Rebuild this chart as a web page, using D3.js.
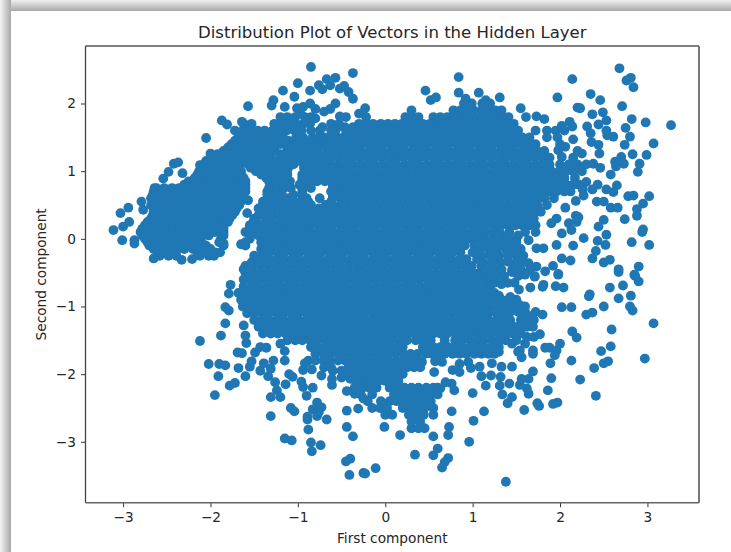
<!DOCTYPE html>
<html>
<head>
<meta charset="utf-8">
<script src="https://cdn.jsdelivr.net/npm/d3@7"></script>
<style>
  html, body { margin: 0; padding: 0; background: #fff; }
  svg { display: block; }
  text { font-family: "DejaVu Sans", sans-serif; fill: #262626; }
</style>
</head>
<body>
<svg id="chart" width="731" height="552"></svg>
<script>
var titleText = 'Distribution Plot of Vectors in the Hidden Layer';
var xLabel = 'First component';
var yLabel = 'Second component';
var xTicks = [-3, -2, -1, 0, 1, 2, 3];
var yTicks = [-3, -2, -1, 0, 1, 2];
var xDomain = [-3.43, 3.59];
var yDomain = [-3.9, 2.85];

var upperLeft = [[-0.85,2.54],[-0.37,2.45],[-1,2.3],[-1.17,2.19],[-1.04,2.1],[-1.28,2.05],[-1.3,1.97],[-1.15,1.95],[-1.57,1.96],[-1.87,1.75],[-1.81,1.69],[-2.05,1.49],[-2.37,1.13],[-2.42,1.11],[-2.48,0.99],[-2.54,0.89],[-2.32,0.97],[-2.64,0.75],[-2.79,0.55],[-2.77,0.43],[-2.94,0.46],[-3.03,0.38],[-2.93,0.25],[-3,0.18],[-3.11,0.13],[-3.01,-0.02],[-2.87,-0.02],[-2.87,-0.07],[-2.65,-0.29],[-2.39,-0.25],[-2.33,-0.31],[-2.21,-0.3],[-1.89,-0.2],[-1.58,0.38],[-1.51,0.25],[-1.57,0.57],[-1.65,-0.08],[-1.85,-0.07],[-2,1.26],[-2.12,1.09],[-0.57,2.38],[-0.67,2.36],[-0.86,2.19],[-0.76,2.27],[-0.52,2.22],[-0.42,2.17],[-0.37,2.07],[-0.57,2],[-0.86,2],[-1.01,1.93],[-0.94,1.95],[-1.64,1.73],[-0.52,1.81],[-0.72,2.21],[-0.63,2.27],[-0.47,2.26],[-0.97,1.85],[-0.9,1.72],[-0.8,1.78],[-0.72,1.65],[-0.85,1.6],[-0.7,1.88],[-0.8,1.92],[-0.63,1.92],[-0.53,1.7],[-0.75,1.5],[-0.62,1.52],[-0.57,1.6],[-0.3,1.85],[-0.23,1.93]];

var upperRight = [[0.84,2.39],[0.46,2.19],[0.52,2.05],[0.58,2.09],[0.84,2.16],[1.07,2.16],[1.31,2.09],[0.92,2.07],[1.15,2.05],[1.55,1.93],[1.61,1.8],[1.73,1.81],[1.82,1.77],[1.97,2.09],[2.14,2.36],[2.35,2.14],[2.46,2.05],[2.68,2.52],[2.81,2.38],[2.76,2.34],[2.84,2.24],[2.71,1.96],[2.2,1.94],[2.23,1.93],[2.37,1.84],[2.49,1.87],[2.53,1.75],[2.44,1.69],[2.82,1.77],[2.98,1.72],[3.27,1.68],[2.75,1.64],[2.53,1.6],[2.54,1.53],[2.61,1.51],[2.8,1.51],[2.74,1.39],[3.07,1.41],[2.83,1.25],[2.99,1.24],[2.7,1.21],[2.73,1.11],[2.63,1.14],[2.64,1.07],[2.91,1.11],[2.89,0.99],[2.58,0.95],[2.46,1.05],[2.38,1.11],[2.31,1.66],[2.35,1.56],[2.36,1.43],[2.44,1.39],[2.45,1.26],[2.14,1.66],[2.11,1.73],[2.02,1.67],[2.15,1.47],[1.98,1.31],[2.06,1.36],[2.02,1.21],[2.25,1.26],[2.3,0.84],[2.43,0.8],[2.37,0.73],[2.65,0.79],[2.53,0.73],[2.61,0.69],[2.78,0.63],[2.84,0.64],[3.02,0.63],[2.95,0.52],[2.88,0.44],[2.88,0.34],[2.42,0.55],[2.5,0.55],[2.58,0.46],[2.66,0.46],[2.74,0.29],[2.06,0.46],[2.18,0.56],[2.27,0.64],[2.26,0.73],[2.18,0.34],[2.21,0.32],[2.5,0.28],[2.44,0.18],[2.53,0.06],[2.43,-0.03],[2.52,-0.09],[2.95,0.14],[2.94,0.1],[2.82,-0.05],[3.02,-0.09],[2.41,-0.18],[2.37,-0.29],[2.5,-0.35],[2.57,-0.31],[2.67,-0.45],[2.9,-0.41],[2.85,-0.53],[2.02,-0.29],[2.12,-0.32],[2.27,0.01],[2.15,-0.1],[2.19,0.25],[2.1,0.23],[1.96,0.3],[1.9,0.23],[2.13,0.13],[2.02,0.08],[1.92,-0.4],[1.98,-0.52],[1.83,-0.48],[1.73,-0.41],[1.64,-0.36],[1.6,-0.51],[1.71,-0.56],[1.45,-0.46],[1.41,-0.34],[1.81,-0.14],[1.73,-0.14],[1.96,-0.09],[1.64,-0.02]];

var lowerLeft = [[-2.12,-1.51],[-1.77,-0.68],[-1.79,-0.81],[-1.83,-1.01],[-1.79,-1.06],[-1.83,-1.25],[-1.88,-1.43],[-2.02,-1.85],[-1.9,-1.85],[-1.83,-1.87],[-1.91,-2.03],[-1.95,-2.31],[-1.78,-2.17],[-1.72,-2.13],[-1.68,-1.91],[-1.6,-2.03],[-1.55,-1.89],[-1.69,-1.68],[-1.64,-1.69],[-1.59,-1.54],[-1.6,-1.43],[-1.62,-1.28],[-1.43,-1.95],[-1.34,-2.03],[-1.31,-1.92],[-1.39,-1.84],[-1.53,-1.81],[-1.49,-1.68],[-1.43,-1.6],[-1.36,-1.61],[-1.28,-1.8],[-1.15,-1.8],[-1.15,-1.66],[-1.2,-1.55],[-1.26,-2.12],[-1.14,-2.15],[-1.24,-2.24],[-1.31,-2.34],[-1.2,-2.34],[-1.31,-2.62],[-1.1,-2],[-1.06,-2.04],[-0.96,-2.11],[-0.94,-2.19],[-0.83,-2.2],[-0.9,-2.32],[-0.78,-2.42],[-0.73,-2.49],[-0.83,-2.52],[-0.76,-2.56],[-0.78,-2.62],[-0.89,-2.63],[-0.89,-2.67],[-1.08,-2.5],[-1.04,-2.55],[-0.67,-2.67],[-0.88,-2.82],[-1.15,-2.95],[-1.07,-2.98],[-0.85,-3.01],[-0.74,-3.05],[-0.84,-3.14],[-0.44,-2.54],[-0.31,-2.51],[-0.44,-2.78],[-0.37,-2.92],[-0.4,-3.25],[-0.45,-3.29],[-0.41,-3.49],[-0.25,-3.46],[-0.44,-2.25],[-0.35,-2.29],[-0.25,-2.36],[-0.61,-2.16],[-0.73,-2.02],[-0.84,-1.93],[-0.94,-1.94],[-0.92,-1.84],[-0.61,-2.07],[-0.48,-1.99],[-0.4,-2.07],[-0.6,-1.95],[-0.5,-1.95],[-0.42,-1.93],[-0.5,-2.05]];

var lowerRight = [[3.07,-1.25],[2.97,-1.77],[2.59,-1.34],[2.58,-1.59],[2.47,-1.66],[2.55,-1.81],[2.5,-1.84],[2.39,-1.91],[2.23,-2.08],[2.41,-2.32],[2.13,-1.8],[2.14,-1.37],[2.19,-1.46],[2,-1.55],[1.96,-1.65],[1.94,-1.72],[1.89,-1.84],[1.9,-2.06],[1.86,-2.24],[1.97,-2.42],[1.92,-2.44],[1.74,-2.43],[1.76,-2.47],[1.59,-2.53],[1.45,-2.34],[1.4,-2.43],[1.34,-2.3],[1.42,-2.14],[1.13,-2.55],[1.01,-2.69],[0.96,-3],[0.76,-2.55],[1,-2.28],[0.73,-2.78],[0.72,-2.9],[0.55,-2.92],[0.17,-2.9],[0.6,-3.1],[0.55,-3.2],[0.34,-3.19],[0.72,-3.24],[0.68,-3.3],[0.65,-3.38],[1.38,-3.59],[-0.11,-3.39],[-0.23,-3.47],[-0.01,-2.78],[1.8,-1.12],[1.69,-1.3],[1.77,-1.41],[1.68,-1.14],[2.02,-1.01],[2.13,-1.01],[2.3,-1.12],[2.37,-1.09],[2.5,-1],[2.33,-0.85],[2.34,-0.82],[2.67,-0.88],[2.81,-0.84],[2.8,-1],[2.83,-1.06],[2.57,-0.72],[2.72,-0.69],[2.9,-0.63],[2.86,-0.55],[2.67,-0.49],[1.33,-0.67],[1.53,-0.75],[1.66,-0.72],[1.8,-0.71],[1.81,-0.68],[1.95,-0.7],[2.04,-0.72],[1.3,-0.84],[1.43,-0.86],[1.54,-0.98],[1.35,-1.11],[1.6,-0.53],[1.71,-0.55],[1.98,-0.53],[1.45,-0.49],[1.69,-1.65],[1.69,-1.7],[1.83,-1.61],[1.88,-1.61],[1.54,-1.65],[1.56,-1.75],[1.69,-1.96],[1.54,-2.16],[1.62,-2.21],[1.64,-2.29],[1.56,-2.07],[1.45,-1.89],[1.33,-1.89],[1.22,-1.84],[1.08,-1.89],[0.95,-1.82],[0.85,-1.85],[0.77,-1.94],[0.85,-1.97],[0.98,-1.91],[1.1,-2.03],[1.21,-2.02],[1.15,-2.17],[1.31,-2.17],[1.32,-2.04],[1.64,-2.07],[0.76,-2.14],[0.79,-2.24],[0.69,-2.12],[0.63,-2.21],[0.65,-1.82],[0.57,-1.81],[0.56,-1.97],[0.42,-1.82],[1.45,-1.55],[1.52,-1.67],[1.3,-1.67],[1.18,-1.67],[1.07,-1.67]];

// the dense middle: the marks overlap into a solid area there, so single points
// can't be read. each row is [second, first, first, ...], estimated to cover that area
var denseUpper = [
[2.0,0.9,0.99,1.11,1.2],
[1.9,0.3,0.78,0.86,0.93,1.01,1.1,1.18,1.26,1.33],
[1.8,-1.2,-1.12,-1.03,-0.92,-0.85,-0.45,-0.22,0.23,0.31,0.38,0.55,0.63,0.71,0.79,0.87,0.94,1.02,1.1,1.18,1.26,1.34,1.41],
[1.7,-1.62,-1.53,-1.27,-1.19,-1.11,-1.03,-0.94,-0.86,-0.62,-0.3,-0.22,-0.14,-0.05,0.03,0.11,0.19,0.27,0.35,0.43,0.51,0.59,0.67,0.75,0.83,0.91,0.99,1.07,1.15,1.23,1.31,1.39,1.47],
[1.6,-1.72,-1.63,-1.55,-1.46,-1.38,-1.29,-1.21,-1.13,-1.04,-0.96,-0.75,-0.62,-0.45,-0.37,-0.29,-0.2,-0.12,-0.04,0.04,0.13,0.21,0.29,0.37,0.45,0.54,0.62,0.7,0.78,0.86,0.95,1.03,1.11,1.19,1.27,1.36,1.44,1.52,1.72,1.85,1.95,2.05],
[1.5,-1.68,-1.6,-1.51,-1.43,-1.34,-1.26,-1.17,-1.02,-0.94,-0.83,-0.7,-0.55,-0.48,-0.4,-0.32,-0.24,-0.15,-0.07,0.01,0.09,0.17,0.26,0.34,0.42,0.5,0.58,0.67,0.75,0.83,0.91,0.99,1.08,1.16,1.24,1.32,1.41,1.49,1.57,1.65,1.85,1.97],
[1.4,-1.76,-1.68,-1.59,-1.5,-1.42,-1.33,-1.25,-1.2,-1.1,-1.01,-0.92,-0.8,-0.7,-0.61,-0.53,-0.44,-0.36,-0.28,-0.19,-0.11,-0.03,0.06,0.14,0.22,0.31,0.39,0.47,0.56,0.64,0.72,0.81,0.89,0.97,1.06,1.14,1.22,1.31,1.39,1.47,1.56,1.64,1.72,2.0],
[1.3,-1.85,-1.77,-1.68,-1.6,-1.51,-1.43,-1.34,-1.26,-1.12,-1.03,-0.95,-0.86,-0.78,-0.6,-0.52,-0.43,-0.35,-0.27,-0.18,-0.1,-0.02,0.07,0.15,0.23,0.32,0.4,0.48,0.57,0.65,0.73,0.82,0.9,0.98,1.07,1.15,1.23,1.32,1.4,1.48,1.57,1.65,1.74,1.82,2.2],
[1.2,-2.0,-1.92,-1.83,-1.74,-1.66,-1.57,-1.49,-1.4,-1.32,-1.2,-1.11,-1.03,-0.95,-0.85,-0.62,-0.54,-0.45,-0.37,-0.29,-0.2,-0.12,-0.04,0.05,0.13,0.21,0.3,0.38,0.46,0.55,0.63,0.71,0.8,0.88,0.96,1.05,1.13,1.21,1.3,1.38,1.46,1.55,1.63,1.71,1.8,1.88,2.15],
[1.1,-2.08,-2.0,-1.91,-1.83,-1.74,-1.66,-1.57,-1.49,-1.4,-1.28,-1.19,-1.1,-1.05,-0.9,-0.8,-0.7,-0.62,-0.53,-0.45,-0.37,-0.28,-0.2,-0.12,-0.03,0.05,0.13,0.22,0.3,0.38,0.47,0.55,0.63,0.72,0.8,0.88,0.97,1.05,1.13,1.22,1.3,1.38,1.47,1.55,1.63,1.72,1.8,1.88,2.0,2.1,2.2,2.3],
[1.0,-2.13,-2.05,-1.96,-1.88,-1.79,-1.71,-1.65,-1.48,-1.4,-1.31,-1.22,-1.13,-0.9,-0.75,-0.6,-0.51,-0.43,-0.35,-0.26,-0.18,-0.1,-0.01,0.07,0.15,0.24,0.32,0.4,0.49,0.57,0.65,0.74,0.82,0.9,0.99,1.07,1.15,1.24,1.32,1.4,1.49,1.57,1.65,1.74,1.82,1.9,1.99,2.07,2.15,2.25],
[0.9,-2.18,-2.1,-2.01,-1.93,-1.84,-1.76,-1.67,-1.62,-1.36,-1.27,-1.18,-0.95,-0.82,-0.62,-0.54,-0.45,-0.37,-0.29,-0.2,-0.12,-0.04,0.05,0.13,0.21,0.3,0.38,0.46,0.55,0.63,0.71,0.8,0.88,0.96,1.05,1.13,1.21,1.3,1.38,1.46,1.55,1.63,1.71,1.8,1.88,1.96,2.05,2.17],
[0.8,-2.3,-2.21,-2.13,-2.04,-1.96,-1.87,-1.79,-1.7,-1.6,-1.3,-1.2,-0.98,-0.88,-0.6,-0.51,-0.43,-0.35,-0.26,-0.18,-0.1,-0.01,0.07,0.15,0.24,0.32,0.4,0.49,0.57,0.65,0.74,0.82,0.9,0.99,1.07,1.15,1.24,1.32,1.4,1.49,1.57,1.65,1.74,1.82,1.9,1.99,2.07,2.15,2.22],
[0.7,-2.65,-2.57,-2.48,-2.4,-2.31,-2.23,-2.14,-2.06,-1.97,-1.89,-1.8,-1.72,-1.6,-1.35,-1.27,-1.2,-0.95,-0.62,-0.54,-0.45,-0.37,-0.29,-0.2,-0.12,-0.04,0.05,0.13,0.21,0.3,0.38,0.46,0.55,0.63,0.71,0.8,0.88,0.96,1.05,1.13,1.21,1.3,1.38,1.46,1.55,1.63,1.71,1.8,1.88,1.96,2.05,2.12],
[0.6,-2.68,-2.6,-2.51,-2.43,-2.34,-2.26,-2.17,-2.09,-2.0,-1.92,-1.83,-1.75,-1.63,-1.3,-1.2,-1.1,-0.9,-0.75,-0.6,-0.51,-0.43,-0.35,-0.26,-0.18,-0.1,-0.01,0.07,0.15,0.24,0.32,0.4,0.49,0.57,0.65,0.74,0.82,0.9,0.99,1.07,1.15,1.24,1.32,1.4,1.49,1.57,1.65,1.74,1.82,1.93],
[0.5,-2.68,-2.59,-2.51,-2.42,-2.34,-2.25,-2.17,-2.08,-2.0,-1.91,-1.83,-1.74,-1.67,-1.4,-1.3,-1.22,-1.15,-1.05,-0.95,-0.85,-0.68,-0.6,-0.51,-0.43,-0.34,-0.26,-0.18,-0.09,-0.01,0.07,0.16,0.24,0.32,0.41,0.49,0.57,0.66,0.74,0.82,0.91,0.99,1.07,1.16,1.24,1.32,1.41,1.49,1.57,1.66,1.74,1.85],
[0.4,-2.65,-2.57,-2.48,-2.4,-2.31,-2.23,-2.14,-2.06,-1.97,-1.89,-1.8,-1.72,-1.4,-1.3,-1.15,-1.06,-0.97,-0.88,-0.8,-0.7,-0.62,-0.53,-0.45,-0.37,-0.28,-0.2,-0.12,-0.03,0.05,0.13,0.22,0.3,0.38,0.47,0.55,0.63,0.72,0.8,0.88,0.97,1.05,1.13,1.22,1.3,1.38,1.47,1.55,1.63,1.72,1.78],
[0.3,-2.68,-2.6,-2.51,-2.43,-2.34,-2.26,-2.17,-2.09,-2.0,-1.92,-1.83,-1.78,-1.5,-1.15,-1.07,-0.98,-0.9,-0.8,-0.72,-0.63,-0.55,-0.47,-0.38,-0.3,-0.22,-0.13,-0.05,0.03,0.12,0.2,0.28,0.37,0.45,0.53,0.62,0.7,0.78,0.87,0.95,1.03,1.12,1.2,1.28,1.37,1.45,1.53,1.62,1.7],
[0.2,-2.75,-2.67,-2.58,-2.5,-2.41,-2.33,-2.24,-2.16,-2.07,-1.99,-1.9,-1.85,-1.55,-1.45,-1.1,-1.02,-0.93,-0.85,-0.76,-0.68,-0.6,-0.51,-0.43,-0.35,-0.26,-0.18,-0.1,-0.01,0.07,0.15,0.24,0.32,0.4,0.49,0.57,0.65,0.74,0.82,0.9,0.99,1.07,1.15,1.24,1.32,1.4,1.49,1.57,1.65,1.72],
[0.1,-2.8,-2.72,-2.63,-2.55,-2.46,-2.38,-2.29,-2.21,-2.12,-2.04,-1.95,-1.85,-1.6,-1.5,-1.4,-1.2,-1.11,-1.03,-0.94,-0.86,-0.77,-0.69,-0.61,-0.52,-0.44,-0.36,-0.27,-0.19,-0.11,-0.02,0.06,0.14,0.23,0.31,0.39,0.48,0.56,0.64,0.73,0.81,0.89,0.98,1.06,1.14,1.23,1.31,1.42,1.6,1.72],
[0.0,-2.75,-2.67,-2.58,-2.5,-2.41,-2.33,-2.24,-2.15,-1.88,-1.55,-1.4,-1.3,-1.21,-1.13,-1.04,-0.96,-0.87,-0.79,-0.71,-0.62,-0.54,-0.46,-0.37,-0.29,-0.21,-0.12,-0.04,0.04,0.13,0.21,0.29,0.38,0.46,0.54,0.63,0.71,0.79,0.88,0.96,1.04,1.13,1.22,1.4,1.5],
[-0.1,-2.7,-2.62,-2.53,-2.45,-2.36,-2.28,-2.19,-2.11,-2.05,-1.85,-1.6,-1.35,-1.27,-1.18,-1.1,-1.01,-0.93,-0.84,-0.76,-0.68,-0.59,-0.51,-0.43,-0.34,-0.26,-0.18,-0.09,-0.01,0.07,0.16,0.24,0.32,0.41,0.49,0.57,0.66,0.74,0.82,0.91,1.02,1.2,1.35],
[-0.2,-2.6,-2.5,-2.15,-2.05,-1.95,-1.4,-1.32,-1.23,-1.15,-1.06,-0.98,-0.89,-0.81,-0.73,-0.64,-0.56,-0.48,-0.39,-0.31,-0.23,-0.14,-0.06,0.02,0.11,0.19,0.27,0.36,0.44,0.52,0.61,0.69,0.77,0.86,1.0,1.2]
];

var denseLower = [
[-0.3,-1.5,-1.41,-1.33,-1.24,-1.16,-1.07,-0.99,-0.9,-0.82,-0.74,-0.65,-0.57,-0.49,-0.4,-0.32,-0.24,-0.15,-0.07,0.01,0.1,0.18,0.26,0.35,0.43,0.51,0.6,0.68,0.76,0.85,0.93,1.05,1.25],
[-0.4,-1.6,-1.52,-1.43,-1.35,-1.26,-1.18,-1.09,-1.01,-0.92,-0.84,-0.76,-0.67,-0.59,-0.51,-0.42,-0.34,-0.26,-0.17,-0.09,-0.01,0.08,0.16,0.24,0.33,0.41,0.49,0.58,0.66,0.74,0.83,0.91,0.99,1.1],
[-0.5,-1.6,-1.51,-1.43,-1.34,-1.26,-1.17,-1.09,-1.0,-0.92,-0.83,-0.75,-0.67,-0.58,-0.5,-0.42,-0.33,-0.25,-0.17,-0.08,0,0.08,0.17,0.25,0.33,0.42,0.5,0.58,0.67,0.75,0.83,0.92,1.0,1.08,1.15],
[-0.6,-1.62,-1.54,-1.45,-1.37,-1.28,-1.2,-1.11,-1.03,-0.94,-0.86,-0.77,-0.69,-0.61,-0.52,-0.44,-0.36,-0.27,-0.19,-0.11,-0.02,0.06,0.14,0.23,0.31,0.39,0.48,0.56,0.64,0.73,0.81,0.89,0.98,1.06,1.14,1.2],
[-0.7,-1.62,-1.53,-1.45,-1.36,-1.28,-1.19,-1.11,-1.02,-0.94,-0.85,-0.77,-0.69,-0.6,-0.52,-0.44,-0.35,-0.27,-0.19,-0.1,-0.02,0.06,0.15,0.23,0.31,0.4,0.48,0.56,0.65,0.73,0.81,0.9,0.98,1.06,1.15,1.2],
[-0.8,-1.68,-1.6,-1.51,-1.43,-1.34,-1.26,-1.17,-1.09,-1.0,-0.92,-0.83,-0.75,-0.67,-0.58,-0.5,-0.42,-0.33,-0.25,-0.17,-0.08,0,0.08,0.17,0.25,0.33,0.42,0.5,0.58,0.67,0.75,0.83,0.92,1.0,1.08,1.17,1.25],
[-0.9,-1.65,-1.56,-1.48,-1.39,-1.31,-1.22,-1.14,-1.05,-0.97,-0.88,-0.8,-0.72,-0.63,-0.55,-0.47,-0.38,-0.3,-0.22,-0.13,-0.05,0.03,0.12,0.2,0.28,0.37,0.45,0.53,0.62,0.7,0.78,0.87,0.95,1.03,1.12,1.2,1.25],
[-1.0,-1.63,-1.55,-1.46,-1.38,-1.29,-1.21,-1.12,-1.04,-0.95,-0.87,-0.78,-0.7,-0.62,-0.53,-0.45,-0.37,-0.28,-0.2,-0.12,-0.03,0.05,0.13,0.22,0.3,0.38,0.47,0.55,0.63,0.72,0.8,0.88,0.97,1.05,1.13,1.2,1.3],
[-1.1,-1.58,-1.5,-1.41,-1.33,-1.24,-1.16,-1.07,-0.99,-0.9,-0.82,-0.74,-0.65,-0.57,-0.49,-0.4,-0.32,-0.24,-0.15,-0.07,0.01,0.1,0.18,0.26,0.35,0.43,0.51,0.6,0.68,0.76,0.85,0.93,1.01,1.1,1.18,1.3],
[-1.2,-1.5,-1.41,-1.33,-1.24,-1.16,-1.07,-0.99,-0.9,-0.82,-0.73,-0.65,-0.57,-0.48,-0.4,-0.32,-0.23,-0.15,-0.07,0.02,0.1,0.18,0.27,0.35,0.43,0.52,0.6,0.68,0.77,0.85,0.93,1.02,1.1,1.18,1.27,1.35,1.43,1.55],
[-1.3,-1.45,-1.37,-1.28,-1.2,-1.11,-1.03,-0.94,-0.86,-0.77,-0.69,-0.61,-0.52,-0.44,-0.36,-0.27,-0.19,-0.11,-0.02,0.06,0.14,0.23,0.3,0.39,0.48,0.56,0.64,0.73,0.81,0.89,0.98,1.06,1.14,1.23,1.31,1.39,1.48,1.56],
[-1.4,-1.4,-1.31,-1.23,-1.14,-1.06,-0.97,-0.89,-0.8,-0.72,-0.64,-0.55,-0.47,-0.39,-0.3,-0.22,-0.14,-0.05,0.03,0.11,0.2,0.25,0.33,0.41,0.48,0.55,0.63,0.71,0.8,0.88,0.96,1.05,1.13,1.21,1.3,1.38,1.46,1.55],
[-1.5,-1.12,-1.03,-0.95,-0.86,-0.78,-0.69,-0.61,-0.53,-0.44,-0.36,-0.28,-0.19,-0.11,-0.03,0.06,0.15,0.25,0.35,0.43,0.52,0.68,0.8,0.88,0.97,1.05,1.13,1.22,1.3,1.38,1.5],
[-1.6,-0.85,-0.77,-0.68,-0.6,-0.51,-0.43,-0.35,-0.26,-0.18,-0.1,-0.01,0.07,0.15,0.2,0.43,0.5,0.55,0.63,0.72,0.8,0.88,0.97,1.05,1.13,1.22,1.3],
[-1.7,-0.8,-0.71,-0.63,-0.54,-0.46,-0.38,-0.29,-0.21,-0.13,-0.04,0.04,0.12,0.21,0.29,0.37,0.46,0.53,0.6,0.68,0.77,0.85,0.93,1.02,1.1,1.18,1.25],
[-1.8,-0.88,-0.8,-0.71,-0.63,-0.54,-0.46,-0.37,-0.29,-0.21,-0.12,-0.04,0.04,0.13,0.21,0.29,0.37],
[-1.9,-0.7,-0.62,-0.42,-0.34,-0.25,-0.17,-0.09,0,0.08,0.16,0.25,0.33,0.4],
[-2.0,-0.45,-0.36,-0.28,-0.19,-0.11,-0.03,0.06,0.14,0.2],
[-2.1,-0.34,-0.25,-0.17,-0.08,0,0.08,0.15],
[-2.2,-0.35,-0.26,-0.18,-0.1,0.05,0.13,0.22,0.3,0.38,0.47,0.55,0.6],
[-2.3,-0.28,-0.15,0.1,0.18,0.27,0.35,0.43,0.52,0.6],
[-2.4,-0.2,-0.05,0.05,0.13,0.22,0.3,0.38,0.47,0.52],
[-2.5,-0.15,-0.06,0.02,0.2,0.28,0.37,0.45,0.55],
[-2.6,0,0.08,0.27,0.35,0.44,0.55],
[-2.7,0.3,0.4],
[-2.8,0.3,0.38,0.45]
];

// between the rows above, closing the looser left lobe, the bridge to the body and the right side
var denseBetween = [
[1.65,-0.55,-0.46,-0.37],
[1.45,-1.72,-1.63,-1.55,-1.46,-1.37,-1.29,-1.2,-1.11,-1.03,-0.94,-0.85,-0.74,-0.65,-0.56],
[1.35,-1.8,-1.71,-1.63,-1.54,-1.46,-1.37,-1.29,-1.12,-1.04,-0.95,-0.87,-0.78,-0.68,-0.59,-0.5],
[1.25,-1.92,-1.83,-1.75,-1.66,-1.58,-1.49,-1.4,-1.31,-1.19,-1.1,-1.02,-0.93,-0.85,-0.76,-0.67,-0.58],
[1.15,-2.05,-1.96,-1.88,-1.79,-1.71,-1.62,-1.53,-1.45,-1.36,-1.24,-1.16,-1.07,-0.98,-0.9,-0.81,-0.72,-0.64],
[1.05,-2.1,-2.01,-1.93,-1.84,-1.76,-1.68,-1.54,-1.46,-1.37,-1.28,-1.2,-1.11,-0.93,-0.84,-0.76,-0.67,-0.6],
[0.95,-2.15,-2.06,-1.98,-1.89,-1.81,-1.72,-1.65,-1.42,-1.34,-1.25,-1.17,-1.12,-0.95,-0.86,-0.77,-0.69,-0.6],
[0.85,-2.25,-2.17,-2.08,-2,-1.91,-1.83,-1.74,-1.66,-1.6,-1.33,-1.25,-1.16,-1.09,-0.95,-0.86,-0.78,-0.69,-0.6],
[0.75,-2.62,-2.53,-2.44,-2.36,-2.27,-2.19,-2.1,-2.02,-1.93,-1.85,-1.76,-1.68,-1.6,-1.33,-1.24,-1.16,-1.08,-0.95,-0.85,-0.6],
[0.65,-2.66,-2.57,-2.49,-2.4,-2.31,-2.23,-2.14,-2.06,-1.97,-1.89,-1.8,-1.72,-1.63,-1.35,-1.26,-1.18,-1.05,-0.95,-0.6],
[0.55,-2.66,-2.55,-2.47,-2.38,-2.3,-2.21,-2.12,-2.04,-1.95,-1.87,-1.78,-1.7,-1.65,-1.4,-1.31,-1.23,-1.14,-1.05,-0.97,-0.88,-0.62],
[0.45,-2.65,-2.55,-2.46,-2.37,-2.29,-2.2,-2.12,-2.03,-1.94,-1.86,-1.77,-1.7,-1.45,-1.36,-1.28,-1.19,-1.1,-1.02,-0.93,-0.85,-0.76,-0.68],
[0.35,-2.66,-2.58,-2.49,-2.41,-2.32,-2.23,-2.15,-2.06,-1.98,-1.89,-1.81,-1.75,-1.45,-1.36,-1.28,-1.2,-1.11,-1.02,-0.94,-0.85,-0.77,-0.7],
[0.25,-2.72,-2.63,-2.55,-2.46,-2.37,-2.29,-2.2,-2.12,-2.03,-1.95,-1.86,-1.8,-1.48,-1.38,-1.29,-1.2,-1.12,-1.03,-0.94,-0.86],
[0.15,-2.78,-2.69,-2.6,-2.52,-2.43,-2.35,-2.26,-2.18,-2.09,-2,-1.92,-1.85,-1.55,-1.42,-1.33,-1.24,-1.15,-1.07,-0.98],
[0.05,-2.78,-2.69,-2.61,-2.52,-2.44,-2.35,-2.27,-2.18,-2.1,-2.02,-1.85,-1.55,-1.45,-1.36,-1.28,-1.19,-1.11,1.3,1.4,1.52],
[-0.05,-2.72,-2.64,-2.55,-2.47,-2.38,-2.3,-2.21,-2.1,-1.9,-1.6,-1.42,-1.33,-1.25,1.12,1.22,1.32,1.42,1.5],
[-0.15,-2.65,-2.55,-2.47,-2.38,-2.3,-2.2,-2.1,-2,-1.42,-1.35,1.08,1.18,1.28,1.38,1.47,1.55],
[-0.25,-2.58,-2.48,-2.12,-2.02,-1.96,-1.5,-1.42,1.1,1.2,1.3,1.4,1.5,1.58],
[-0.35,-1.53,-1.45,1.12,1.22,1.32,1.5,1.56],
[-0.45,-1.62,-1.55,1.16,1.25,1.33,1.55,1.66],
[-0.55,1.2,1.28,1.36,1.52],
[-0.65,1.25,1.4,1.48],
[-0.9,1.33,1.41,1.5],
[-1.0,1.38,1.46,1.54,1.6],
[-1.08,1.25,1.43,1.52,1.6,1.72],
[-1.2,1.62,1.7],
[-1.3,1.62],
[-1.45,1.62,1.7],
[-1.55,1.6]
];

var width = 731, height = 552;
var plot = { left: 85.5, right: 699, top: 46, bottom: 502.7 };
var dotColor = '#1f77b4';

var svg = d3.select('#chart');

// grey shadow along the top and left of the screenshot
var defs = svg.append('defs');
var shadeLeft = defs.append('linearGradient').attr('id', 'shade-left');
shadeLeft.append('stop').attr('offset', '0%').attr('stop-color', '#f4f4f4');
shadeLeft.append('stop').attr('offset', '100%').attr('stop-color', '#a8a8a8');
var shadeTop = defs.append('linearGradient').attr('id', 'shade-top')
  .attr('x1', 0).attr('y1', 0).attr('x2', 0).attr('y2', 1);
shadeTop.append('stop').attr('offset', '0%').attr('stop-color', '#f0f0f0');
shadeTop.append('stop').attr('offset', '100%').attr('stop-color', '#a8a8a8');

svg.append('rect').attr('width', width).attr('height', 11).attr('fill', 'url(#shade-top)');
svg.append('rect').attr('width', 11).attr('height', height).attr('fill', 'url(#shade-left)');

var x = d3.scaleLinear().domain(xDomain).range([plot.left, plot.right]);
var y = d3.scaleLinear().domain(yDomain).range([plot.bottom, plot.top]);

// flatten the dense rows into the same [first, second] form as the rest
var denseRows = denseUpper.concat(denseLower, denseBetween);
var densePoints = [];
denseRows.forEach(function(row) {
  row.slice(1).forEach(function(v) { densePoints.push([v, row[0]]); });
});
var points = densePoints.concat(upperLeft, upperRight, lowerLeft, lowerRight);

svg.append('g').selectAll('circle')
  .data(points)
  .enter().append('circle')
  .attr('cx', function(d) { return x(d[0]); })
  .attr('cy', function(d) { return y(d[1]); })
  .attr('r', 4.9)
  .attr('fill', dotColor);

var fmt = function(d) { return d < 0 ? '\u2212' + Math.abs(d) : '' + d; };

var xAxis = svg.append('g')
  .attr('transform', 'translate(0,' + plot.bottom + ')')
  .call(d3.axisBottom(x).tickValues(xTicks).tickFormat(fmt).tickSize(4.5).tickPadding(5));
var yAxis = svg.append('g')
  .attr('transform', 'translate(' + plot.left + ',0)')
  .call(d3.axisLeft(y).tickValues(yTicks).tickFormat(fmt).tickSize(4.5).tickPadding(5));

[xAxis, yAxis].forEach(function(ax) {
  ax.select('.domain').remove();
  ax.selectAll('.tick line').attr('stroke', '#333').attr('stroke-width', 1);
  ax.selectAll('.tick text').attr('font-family', '"DejaVu Sans"').attr('font-size', 13.7).attr('fill', '#262626');
});

// spines, the right and bottom ones came out softer in the screenshot
var spines = [
  { x1: plot.left, y1: plot.top, x2: plot.left, y2: plot.bottom, c: '#444', w: 1.3 },
  { x1: plot.left, y1: plot.top, x2: plot.right, y2: plot.top, c: '#555', w: 1.3 },
  { x1: plot.right, y1: plot.top, x2: plot.right, y2: plot.bottom, c: '#777', w: 2 },
  { x1: plot.left, y1: plot.bottom, x2: plot.right, y2: plot.bottom, c: '#666', w: 1.6 }
];
svg.append('g').selectAll('line').data(spines).enter().append('line')
  .attr('x1', function(d) { return d.x1; }).attr('y1', function(d) { return d.y1; })
  .attr('x2', function(d) { return d.x2; }).attr('y2', function(d) { return d.y2; })
  .attr('stroke', function(d) { return d.c; })
  .attr('stroke-width', function(d) { return d.w; });

svg.append('text').attr('x', (plot.left + plot.right) / 2).attr('y', 38)
  .attr('text-anchor', 'middle').attr('font-size', 16.55).text(titleText);
svg.append('text').attr('x', (plot.left + plot.right) / 2).attr('y', 543)
  .attr('text-anchor', 'middle').attr('font-size', 13.7).text(xLabel);
svg.append('text').attr('transform', 'translate(46,' + (plot.top + plot.bottom) / 2 + ') rotate(-90)')
  .attr('text-anchor', 'middle').attr('font-size', 13.7).text(yLabel);
</script>
</body>
</html>
